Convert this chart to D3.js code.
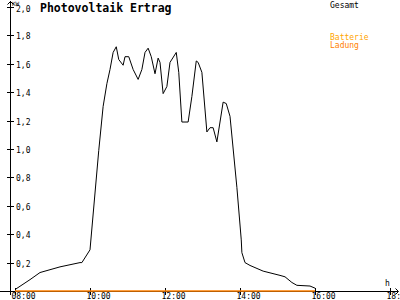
<!DOCTYPE html>
<html><head><meta charset="utf-8">
<script src="https://cdn.jsdelivr.net/npm/d3@7"></script>
<style>body{margin:0;background:#fff}svg{display:block}text{font-family:"DejaVu Sans Mono",monospace}</style>
</head><body>
<script>
const gesamtTimes = ["08:00","08:24","08:40","09:12","09:44","09:47","10:00","10:14","10:21","10:27","10:32","10:37","10:42","10:46","10:53","10:56","11:02","11:09","11:17","11:23","11:28","11:33","11:38","11:44","11:49","11:52","11:57","12:03","12:08","12:18","12:22","12:27","12:37","12:43","12:50","12:53","12:59","13:07","13:12","13:17","13:23","13:33","13:38","13:44","13:55","14:02","14:03","14:08","14:16","14:37","15:04","15:12","15:23","15:31","15:52","16:00"];
const gesamtValues = [0.01,0.08,0.13,0.17,0.20,0.20,0.29,0.99,1.30,1.46,1.56,1.68,1.72,1.63,1.59,1.65,1.65,1.56,1.49,1.56,1.68,1.71,1.65,1.53,1.64,1.61,1.39,1.44,1.61,1.68,1.54,1.19,1.19,1.37,1.62,1.61,1.54,1.12,1.15,1.15,1.05,1.33,1.32,1.23,0.73,0.36,0.27,0.20,0.18,0.14,0.11,0.10,0.06,0.04,0.035,0.02];
const ladungTimes = ["08:00","16:00"];
const ladungValues = [0,0];
const xTicks = ["08:00","10:00","12:00","14:00","16:00","18:"];
const yTicks = [0.2,0.4,0.6,0.8,1.0,1.2,1.4,1.6,1.8,2.0];

const W=400,H=300;
const svg=d3.select("body").append("svg").attr("width",W).attr("height",H);
const toH=s=>{const p=s.split(":");return +p[0]+(+p[1]||0)/60;};
const x=d3.scaleLinear().domain([8,18]).range([15,390]);
const y=d3.scaleLinear().domain([0,2]).range([291,7]);

// axes lines
const ax=svg.append("g").attr("shape-rendering","crispEdges");
ax.append("line").attr("x1",0).attr("x2",398).attr("y1",291.5).attr("y2",291.5).attr("stroke","#000");
ax.append("line").attr("x1",10.5).attr("x2",10.5).attr("y1",1).attr("y2",295).attr("stroke","#000");
svg.append("path").attr("d","M7.5,4.5L10.5,1.5L13.5,4.5").attr("fill","none").attr("stroke","#000");
svg.append("path").attr("d","M395.5,288.5L398.5,291.5L395.5,294.5").attr("fill","none").attr("stroke","#000");

// y ticks
yTicks.forEach(v=>{
  const yy=Math.round(y(v))+0.5;
  ax.append("line").attr("x1",7).attr("x2",14).attr("y1",yy).attr("y2",yy).attr("stroke","#000");
  svg.append("text").attr("x",16).attr("y",yy+(v===2?4.5:3)).attr("font-size",8).text(v.toFixed(1).replace(".",","));
});
// x ticks
xTicks.forEach(t=>{
  const xx=Math.round(x(toH(t)))+0.5;
  ax.append("line").attr("x1",xx).attr("x2",xx).attr("y1",288).attr("y2",295).attr("stroke","#000");
  svg.append("text").attr("x",xx-4).attr("y",299).attr("font-size",8).text(t);
});

svg.append("text").attr("x",12).attr("y",5.5).attr("font-size",6).text("KW");
svg.append("text").attr("x",385).attr("y",286).attr("font-size",8).text("h");

// lines
const line=d3.line().x(d=>x(toH(d[0]))).y(d=>y(d[1]));
svg.append("path").datum(gesamtTimes.map((t,i)=>[t,gesamtValues[i]]))
  .attr("d",line).attr("fill","none").attr("stroke","#000").attr("stroke-width",1);
svg.append("path").datum(ladungTimes.map((t,i)=>[t,ladungValues[i]]))
  .attr("d",line).attr("fill","none").attr("stroke","#ff8000").attr("stroke-width",1.5);

// title + legend
svg.append("text").attr("x",40).attr("y",12).attr("font-size",11.5).attr("font-weight","bold").text("Photovoltaik Ertrag");
svg.append("text").attr("x",330).attr("y",8).attr("font-size",8).text("Gesamt");
svg.append("text").attr("x",330).attr("y",40).attr("font-size",8).attr("fill","#ffa500").text("Batterie");
svg.append("text").attr("x",330).attr("y",48).attr("font-size",8).attr("fill","#ff8000").text("Ladung");
</script>
</body></html>
